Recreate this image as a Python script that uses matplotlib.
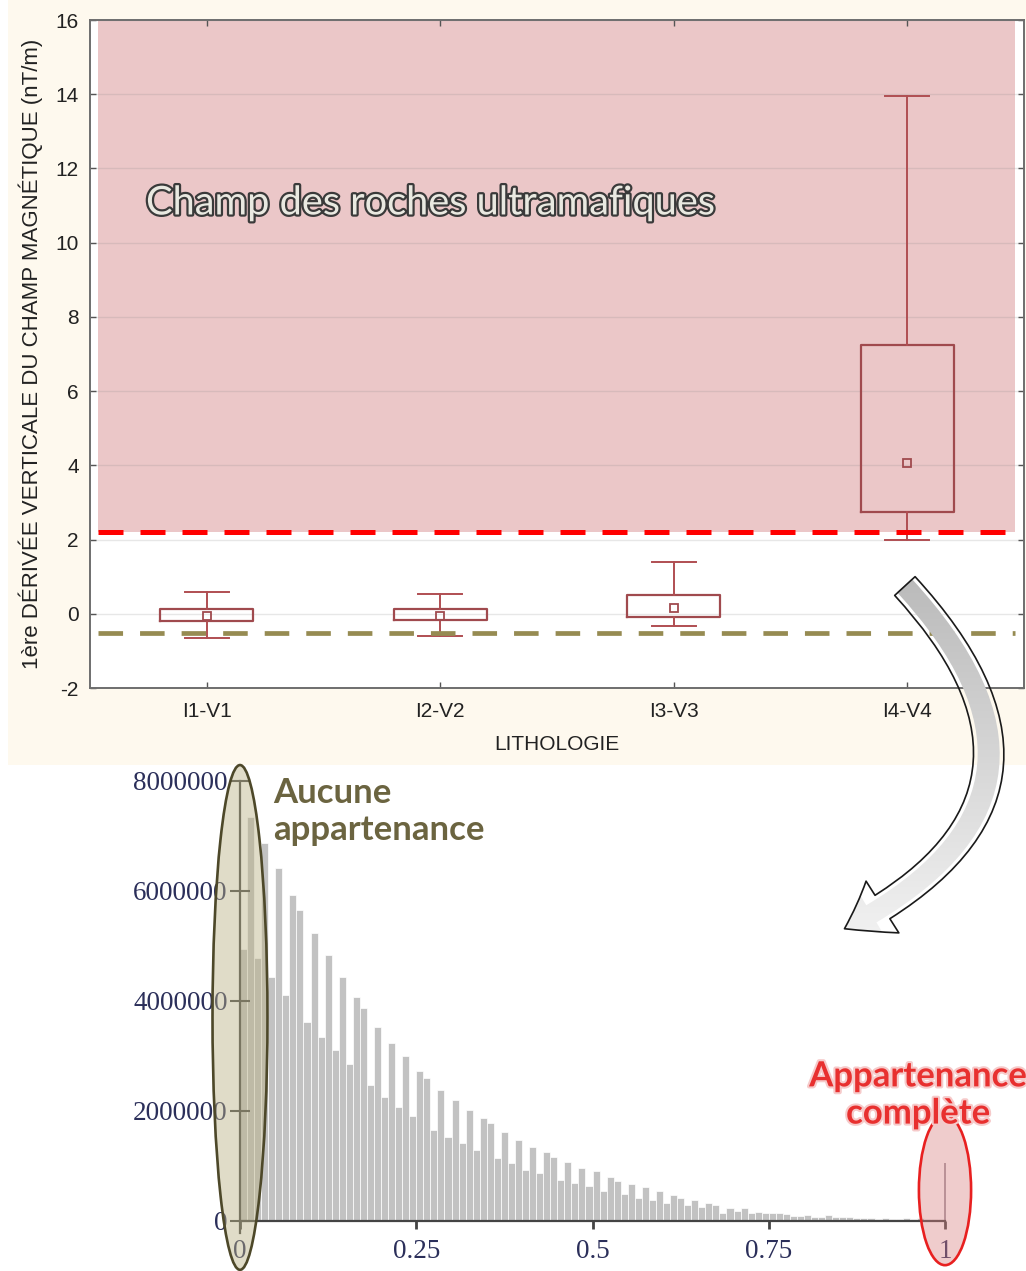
import matplotlib
matplotlib.use("Agg")
import matplotlib.pyplot as plt
import matplotlib.patheffects as pe
from matplotlib.patches import Ellipse, Rectangle, FancyArrowPatch
from matplotlib.colors import LinearSegmentedColormap
import numpy as np

plt.rcParams["axes.unicode_minus"] = False

# --- boites par lithologie (1ere derivee verticale, nT/m)
litho = ["I1-V1", "I2-V2", "I3-V3", "I4-V4"]
moyenne = [-0.06, -0.05, 0.15, 4.07]
boite_bas = [-0.19, -0.17, -0.08, 2.73]
boite_haut = [0.12, 0.12, 0.51, 7.23]
moust_bas = [-0.66, -0.60, -0.33, 1.99]
moust_haut = [0.59, 0.53, 1.39, 13.96]

seuil_ultra = 2.2      # limite basse du champ ultramafique
seuil_nul = -0.52      # limite "aucune appartenance"
haut_champ = 16

# --- histogramme des degres d'appartenance (classes de 0.01, en millions)
effectifs = [
    4.95, 7.35, 4.78, 6.87, 4.44, 6.42, 4.10, 5.93, 5.65, 3.62,
    5.23, 3.35, 4.84, 3.10, 4.44, 2.85, 4.07, 3.88, 2.47, 3.53,
    2.26, 3.23, 2.08, 2.99, 1.90, 2.72, 2.60, 1.65, 2.38, 1.53,
    2.20, 1.41, 2.02, 1.29, 1.87, 1.78, 1.14, 1.62, 1.05, 1.47,
    0.93, 1.35, 0.87, 1.26, 1.17, 0.75, 1.08, 0.69, 0.96, 0.63,
    0.90, 0.55, 0.80, 0.73, 0.49, 0.67, 0.42, 0.62, 0.38, 0.55,
    0.33, 0.47, 0.42, 0.29, 0.38, 0.25, 0.33, 0.29, 0.15, 0.24,
    0.18, 0.24, 0.15, 0.17, 0.15, 0.14, 0.14, 0.12, 0.09, 0.09,
    0.11, 0.08, 0.08, 0.10, 0.07, 0.07, 0.08, 0.05, 0.05, 0.05,
    0.04, 0.05, 0.04, 0.04, 0.06, 0.04, 0.06, 0.04, 0.04, 0.03,
]
complet = 1.05  # appartenance = 1 (millions)

yticks_h = [0, 2e6, 4e6, 6e6, 8e6]
ylabels_h = ["0", "2000000", "4000000", "6000000", "8000000"]
xticks_h = [0, 0.25, 0.5, 0.75, 1]
xlabels_h = ["0", "0.25", "0.5", "0.75", "1"]

W, H = 1026, 1271
fig = plt.figure(figsize=(W / 100, H / 100), dpi=100)
fig.patches.append(Rectangle((8 / W, 1 - 765 / H), 1 - 8 / W, 765 / H,
                             transform=fig.transFigure, facecolor="#FEF9EE",
                             edgecolor="none", zorder=-1))

# ================= boites a moustaches =================
ax = fig.add_axes([90 / W, 1 - 688 / H, 934 / W, 668 / H])
ax.set_xlim(-0.5, 3.5)
ax.set_ylim(-2, 16)
ax.axhspan(seuil_ultra, haut_champ, xmin=0.0086, xmax=0.990,
           facecolor="#EBC7C8", edgecolor="none", zorder=0.5)
ax.set_yticks(range(-2, 17, 2))
ax.grid(axis="y", color="#8A8A8A", alpha=0.2, lw=1)
ax.axhline(seuil_ultra, xmin=0.0086, xmax=0.990, color="#FF0000", lw=3.6,
           ls=(0, (5, 3.4)), zorder=3)
ax.axhline(seuil_nul, xmin=0.0086, xmax=0.990, color="#968B52", lw=3.4,
           ls=(0, (5.2, 3.6)), zorder=3)

c_box = "#A04A4E"
stats = [dict(med=m, mean=m, q1=a, q3=b, whislo=lo, whishi=hi, label=l)
         for l, m, a, b, lo, hi in zip(litho, moyenne, boite_bas, boite_haut,
                                       moust_bas, moust_haut)]
ax.bxp(stats, positions=range(len(litho)), widths=0.4, capwidths=0.19,
       showmeans=True, showfliers=False,
       boxprops=dict(color=c_box, lw=1.6),
       whiskerprops=dict(color="#B04E52", lw=1.4),
       capprops=dict(color="#B04E52", lw=1.4),
       medianprops=dict(lw=0),
       meanprops=dict(marker="s", markersize=6, markerfacecolor="none",
                      markeredgecolor=c_box, markeredgewidth=1.3))

for s in ax.spines.values():
    s.set_color("#6E6E6E")
    s.set_linewidth(1.4)
ax.tick_params(direction="in", length=4, width=1, color="#555555",
               labelsize=15, top=True, right=True, labelcolor="#222222")
ax.tick_params(axis="x", pad=10)
ax.tick_params(axis="y", pad=8)
for t in ax.get_xticklabels() + ax.get_yticklabels():
    t.set_family("Liberation Sans")
ax.set_xlabel("LITHOLOGIE", fontsize=15, family="Liberation Sans",
              color="#222222", labelpad=10)
ax.set_ylabel("1ère DÉRIVÉE VERTICALE DU CHAMP MAGNÉTIQUE (nT/m)",
              fontsize=16, family="Liberation Sans", color="#222222",
              labelpad=9)
ax.text(-0.26, 11.07, "Champ des roches ultramafiques", fontsize=28.6,
        family="Lato", color="#E9E9E1", va="center", ha="left", zorder=4,
        path_effects=[pe.withStroke(linewidth=3.2, foreground="#3A3A3A")])

# ================= histogramme =================
ah = fig.add_axes([240 / W, 1 - 1233 / H, 705 / W, 452 / H])
bords = np.linspace(0, 1, len(effectifs) + 1)[:-1]
ah.bar(bords, np.array(effectifs) * 1e6, width=1 / len(effectifs),
       align="edge", color="#C2C2C2", edgecolor="white", linewidth=0.5)
ah.bar([1.0], [complet * 1e6], width=0.002, color="#A79FA7", clip_on=False)
ah.set_xlim(0, 1)
ah.set_ylim(-0.22e6, 8e6)
ah.spines["top"].set_visible(False)
ah.spines["right"].set_visible(False)
ah.spines["bottom"].set_position(("data", 0))
for s in ("left", "bottom"):
    ah.spines[s].set_color("#444444")
    ah.spines[s].set_linewidth(1.6)
ah.set_yticks(yticks_h)
ah.set_yticklabels(ylabels_h)
ah.set_xticks(xticks_h)
ah.set_xticklabels(xlabels_h)
ah.tick_params(axis="y", direction="inout", length=13.7, width=1.5,
               color="#444444", pad=2)
ah.tick_params(axis="x", direction="out", length=6, width=2,
               color="#444444", pad=7)
for t in ah.get_xticklabels() + ah.get_yticklabels():
    t.set_family("Liberation Serif")
    t.set_fontsize(19.5)
    t.set_color("#2B2F5A")

ah.add_patch(Ellipse((0, 3.7e6), 0.078, 9.18e6, facecolor="#BBB285",
                     alpha=0.45, edgecolor="none", clip_on=False, zorder=3))
ah.add_patch(Ellipse((0, 3.7e6), 0.078, 9.18e6, facecolor="none",
                     edgecolor="#4D4829", lw=1.9, clip_on=False, zorder=3))
ah.add_patch(Ellipse((1.0, 0.56e6), 0.074, 2.73e6, facecolor="#D98080",
                     alpha=0.4, edgecolor="none", clip_on=False, zorder=3))
ah.add_patch(Ellipse((1.0, 0.56e6), 0.074, 2.73e6, facecolor="none",
                     edgecolor="#E82020", lw=1.9, clip_on=False, zorder=3))

ah.text(0.047, 7.44e6, "Aucune\nappartenance", fontsize=25, family="Lato",
        weight="bold", color="#6B6440", va="center", ha="left",
        linespacing=1.2, zorder=4)
ah.text(0.962, 2.29e6, "Appartenance\ncomplète", fontsize=25, family="Lato",
        weight="bold", color="#E8302F", va="center", ha="center",
        linespacing=1.2, zorder=4, clip_on=False,
        path_effects=[pe.withStroke(linewidth=3, foreground="#F6CACA")])

# ================= fleche courbe =================
ov = fig.add_axes([0, 0, 1, 1], zorder=5)
ov.axis("off")
fleche = FancyArrowPatch((903, 584), (842, 930),
                         connectionstyle="arc3,rad=-0.66",
                         arrowstyle="simple,head_width=2.1,head_length=1.5,tail_width=0.95",
                         mutation_scale=21, facecolor="none",
                         edgecolor="#1A1A1A", lw=1.2, zorder=2)
ov.add_patch(fleche)
degrade = np.linspace(0, 1, 256).reshape(-1, 1)
im = ov.imshow(degrade, extent=(820, 1020, 960, 560), aspect="auto",
               cmap=LinearSegmentedColormap.from_list("g", ["#B8B8B8", "#F5F5F5"]),
               zorder=1)
im.set_clip_path(fleche)
ov.set_xlim(0, W)
ov.set_ylim(H, 0)

fig.savefig("out.png", dpi=100)
